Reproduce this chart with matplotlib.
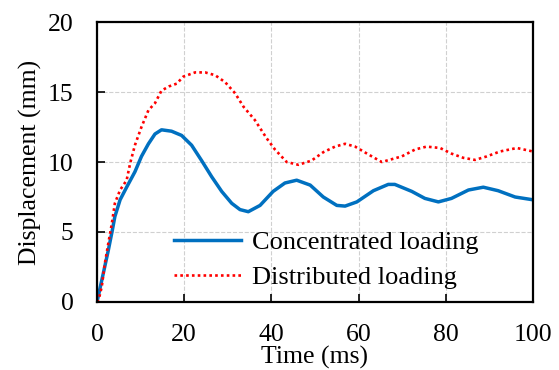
import numpy as np
import matplotlib.pyplot as plt

plt.rcParams['font.family'] = ['Liberation Serif', 'DejaVu Serif']

# values
t_conc = [0, 1.45, 2.6, 3.5, 4.1, 5.3, 6.8, 8.7, 10.2, 11.8, 13.3, 14.8, 17.1, 19.4,
          21.7, 24.0, 26.3, 28.6, 30.9, 32.8, 34.7, 37.4, 40.4, 43.1, 45.8, 48.9,
          51.9, 55.0, 56.9, 59.6, 63.4, 66.8, 68.3, 72.2, 75.2, 78.3, 81.3, 85.2,
          88.6, 92.0, 95.9, 100]
d_conc = [0, 2.05, 3.7, 5.1, 6.1, 7.3, 8.2, 9.3, 10.4, 11.3, 12.0, 12.3, 12.2, 11.9,
          11.2, 10.1, 8.95, 7.9, 7.05, 6.6, 6.45, 6.9, 7.9, 8.5, 8.7, 8.35,
          7.5, 6.9, 6.85, 7.15, 7.95, 8.4, 8.4, 7.9, 7.4, 7.15, 7.4, 8.0,
          8.2, 7.95, 7.5, 7.3]

t_dist = [0, 0.46, 1.1, 1.8, 2.6, 3.4, 4.1, 5.3, 6.8, 7.6, 8.7, 10.2, 11.8, 13.3,
          14.8, 16.5, 18.3, 19.8, 22.5, 24.8, 27.1, 29.4, 31.7, 33.6, 36.2, 38.9,
          40.8, 43.5, 46.2, 49.2, 51.9, 54.6, 56.9, 59.2, 62.2, 65.3, 69.9, 73.0,
          75.6, 78.7, 81.3, 84.0, 86.7, 89.4, 92.4, 96.3, 100]
d_dist = [0, 0.26, 1.1, 2.75, 4.2, 5.6, 7.05, 8.0, 8.7, 9.9, 11.2, 12.5, 13.7, 14.2,
          15.1, 15.4, 15.6, 16.1, 16.4, 16.4, 16.2, 15.7, 14.9, 13.95, 13.0, 11.7,
          10.9, 10.0, 9.8, 10.1, 10.7, 11.1, 11.3, 11.1, 10.55, 10.0, 10.4, 10.9,
          11.1, 11.0, 10.6, 10.3, 10.15, 10.4, 10.75, 11.0, 10.75]

labels = ['Concentrated loading', 'Distributed loading']

fig = plt.figure(figsize=(5.59, 3.70), dpi=100)
ax = fig.add_axes([0.1735, 0.1838, 0.78, 0.7567])

ax.plot(t_conc, d_conc, color='#0070C0', lw=2.5, label=labels[0])
ax.plot(t_dist, d_dist, color='#FF0000', lw=1.9, ls=(0, (1, 1.2)), label=labels[1])

ax.set_xlim(0, 100)
ax.set_ylim(0, 20)
ax.set_xticks(np.arange(0, 101, 20))
ax.set_yticks(np.arange(0, 21, 5))
ax.grid(True, ls='--', color='#d0d0d0', lw=0.8)
ax.tick_params(direction='in', length=6, width=1.2, labelsize=18.5,
               top=False, right=False)
ax.tick_params(axis='x', pad=16)
ax.tick_params(axis='y', pad=17)
for s in ax.spines.values():
    s.set_linewidth(1.6)

ax.set_xlabel('Time (ms)', fontsize=18.5, labelpad=0)
ax.set_ylabel('Displacement (mm)', fontsize=18.5, labelpad=4)

ax.legend(loc='lower left', bbox_to_anchor=(0.122, -0.04), frameon=False,
          fontsize=19, handlelength=2.55, handletextpad=0.42, labelspacing=0.45)

fig.savefig('out.png', dpi=100)
